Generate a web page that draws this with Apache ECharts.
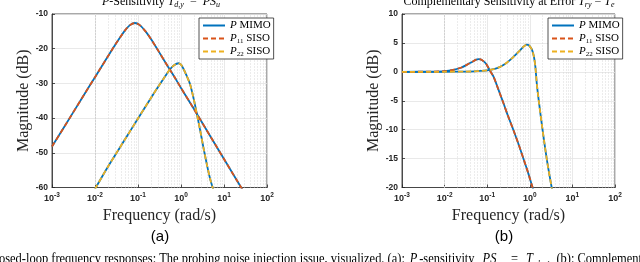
<!DOCTYPE html>
<html><head><meta charset="utf-8">
<script src="https://cdn.jsdelivr.net/npm/echarts@6/dist/echarts.min.js"></script>
<style>html,body{margin:0;padding:0;background:#fff}#c{width:640px;height:262px}</style>
</head><body><div id="c"></div>
<script>
// ---- data ----
// (a) P-sensitivity, MIMO channel 1 (overlaid by P11 SISO)
const freqA1 = [0.001,0.002,0.005,0.01,0.02,0.03,0.04,0.05,0.065,0.085,0.11,0.15,0.2,0.3,0.5,0.7,1,2,5,10,20,30];
const magA1  = [-48.2,-42.2,-34.2,-28.2,-22.2,-18.7,-16.4,-14.7,-13.2,-12.6,-13.2,-15.0,-17.2,-20.7,-25.2,-28.1,-31.3,-37.4,-45.6,-51.8,-58.0,-61.6];
// (a) P-sensitivity, MIMO channel 2 (overlaid by P22 SISO)
const freqA2 = [0.01,0.02,0.05,0.1,0.2,0.3,0.4,0.55,0.7,0.87,1.0,1.13,1.3,1.62,2.0,2.32,2.8,3.3,4.0,4.8,5.6,7];
const magA2  = [-60.4,-54,-46.1,-40.1,-34.2,-30.8,-28.5,-26.0,-24.7,-24.2,-24.6,-25.7,-27.3,-30.2,-34.8,-38.6,-43.6,-48.3,-53.4,-57.7,-60.5,-65];
// (b) Complementary sensitivity, channel 1
const freqB1 = [0.001,0.005,0.01,0.016,0.025,0.033,0.045,0.055,0.062,0.07,0.08,0.095,0.114,0.14,0.18,0.24,0.3,0.414,0.55,0.716,0.9,1.13,1.4];
const magB1  = [0,0.03,0.12,0.35,0.75,1.2,1.75,2.1,2.2,2.15,1.9,1.35,0.3,-0.8,-2.9,-5.4,-7.4,-10.1,-12.6,-15.1,-17.3,-19.7,-21.8];
// (b) Complementary sensitivity, channel 2
const freqB2 = [0.001,0.01,0.03,0.05,0.07,0.1,0.15,0.2,0.25,0.32,0.414,0.55,0.7,0.85,0.95,1.05,1.13,1.25,1.35,1.47,1.65,1.94,2.2,2.53,2.9,3.3,4];
const magB2  = [0,0.01,0.04,0.09,0.15,0.25,0.5,0.85,1.25,1.85,2.6,3.5,4.3,4.7,4.6,4.2,3.8,2.6,0.9,-2.3,-5.4,-9.4,-12.3,-15.3,-17.9,-20.2,-24];
// SISO loops coincide with the MIMO channels
const magA1Siso = magA1.slice();
const magA2Siso = magA2.slice();
const magB1Siso = magB1.slice();
const magB2Siso = magB2.slice();

const legendNames = ['P MIMO','P11 SISO','P22 SISO'];
const xTickExp = [-3,-2,-1,0,1,2];
const yRangeA = [-60,-10,10];
const yRangeB = [-20,10,5];

// ---- styling ----
const BLUE='#0072BD', RED='#D95319', YEL='#EDB120';
const SERIF="'Liberation Serif','DejaVu Serif',serif";
const SANS="'Liberation Sans',Arial,sans-serif";
const AX='#262626';

function pairs(f,m){return f.map((x,i)=>[x,m[i]]);}
const minorVals=[];
for(let d=-3; d<2; d++){ for(let k=2;k<10;k++){ minorVals.push(+(k*Math.pow(10,d)).toPrecision(3)); } }

function xAxisFor(gi){
  return {type:'log', logBase:10, gridIndex:gi, min:0.001, max:100,
    name:'Frequency (rad/s)', nameLocation:'middle', nameGap:17,
    nameTextStyle:{fontFamily:SERIF, fontSize:16, color:AX},
    axisLine:{show:true, onZero:false, lineStyle:{color:AX,width:0.8}},
    axisTick:{show:true, inside:true, length:3, lineStyle:{color:AX,width:0.8}},
    splitLine:{show:true, lineStyle:{color:'#e3e3e3', width:0.8}},
    axisLabel:{margin:4, color:AX,
      formatter:function(v){const e=Math.round(Math.log10(v)); const i=xTickExp.indexOf(e); return '{b|10}{e|'+(i>=0?xTickExp[i]:e)+'}';},
      rich:{b:{fontFamily:SANS, fontSize:9, fontWeight:'bold', color:AX, lineHeight:14},
            e:{fontFamily:SANS, fontSize:6.5, fontWeight:'bold', color:AX, lineHeight:7, verticalAlign:'top'}}}
  };
}
function yAxisFor(gi, r){
  return {type:'value', gridIndex:gi, min:r[0], max:r[1], interval:r[2],
    name:'Magnitude (dB)', nameLocation:'middle', nameGap:18,
    nameTextStyle:{fontFamily:SERIF, fontSize:16, color:AX},
    axisLine:{show:true, onZero:false, lineStyle:{color:AX,width:0.8}},
    axisTick:{show:true, inside:true, length:3, lineStyle:{color:AX,width:0.8}},
    splitLine:{show:true, lineStyle:{color:'#e3e3e3', width:0.8}},
    axisLabel:{margin:4, color:AX, fontFamily:SANS, fontSize:8.5, fontWeight:'bold'}
  };
}
function minorSeries(gi){
  return {type:'line', xAxisIndex:gi, yAxisIndex:gi, data:[], silent:true, z:1,
    markLine:{silent:true, symbol:['none','none'], label:{show:false}, z:1,
      lineStyle:{color:'#cfcfcf', type:[1,2], width:0.8},
      emphasis:{disabled:true},
      data:minorVals.map(v=>({xAxis:v}))}};
}
function curve(gi,name,f,m,color,dashed,z){
  return {name:name, type:'line', xAxisIndex:gi, yAxisIndex:gi, data:pairs(f,m),
    symbol:'none', smooth:0.25, clip:true, z:z,
    lineStyle:{color:color, width:1.8, type: dashed?[5,3]:'solid'},
    itemStyle:{color:color}};
}
function legendFor(left){
  return {left:left, top:18, orient:'vertical', itemGap:0, itemWidth:22, itemHeight:11,
    padding:[1,3,1,3], backgroundColor:'#fff', borderColor:AX, borderWidth:0.8, borderRadius:0,
    data:legendNames, selectedMode:false,
    itemStyle:{opacity:0, borderWidth:0},
    formatter:function(n){
      if(n==='P MIMO') return '{i|P} MIMO';
      if(n==='P11 SISO') return '{i|P}{s|11} SISO';
      return '{i|P}{s|22} SISO';
    },
    textStyle:{fontFamily:SERIF, fontSize:11, color:'#000', lineHeight:11,
      rich:{i:{fontFamily:SERIF, fontSize:11, fontStyle:'italic', color:'#000', lineHeight:13},
            s:{fontFamily:SERIF, fontSize:7, color:'#000', lineHeight:7, verticalAlign:'bottom'}}}
  };
}

const titleRich = {
  n:{fontFamily:SERIF, fontSize:12, fill:'#000', lineHeight:15},
  i:{fontFamily:SERIF, fontSize:12, fontStyle:'italic', fill:'#000', lineHeight:15},
  s:{fontFamily:SERIF, fontSize:8, fontStyle:'italic', fill:'#000', lineHeight:8, verticalAlign:'bottom'}
};
const capRich = {
  n:{fontFamily:SERIF, fontSize:14, fill:'#000', lineHeight:17},
  i:{fontFamily:SERIF, fontSize:14, fontStyle:'italic', fill:'#000', lineHeight:17},
  m:{fontFamily:SERIF, fontSize:14, fontStyle:'italic', fill:'#000', lineHeight:17, padding:[0,2,0,2]},
  s:{fontFamily:SERIF, fontSize:9, fontStyle:'italic', fill:'#000', lineHeight:9, verticalAlign:'bottom', padding:[0,2,0,1]}
};

const option = {
  animation:false,
  backgroundColor:'#fff',
  grid:[
    {left:52, top:14, width:215, height:173.5, show:true, borderColor:AX, borderWidth:0.8, backgroundColor:'#fff'},
    {left:402, top:14, width:213, height:173.5, show:true, borderColor:AX, borderWidth:0.8, backgroundColor:'#fff'}
  ],
  xAxis:[xAxisFor(0), xAxisFor(1)],
  yAxis:[yAxisFor(0,yRangeA), yAxisFor(1,yRangeB)],
  legend:[legendFor(199), legendFor(548)],
  series:[
    minorSeries(0), minorSeries(1),
    curve(0,'P MIMO',freqA1,magA1,BLUE,false,3),
    curve(0,'P MIMO',freqA2,magA2,BLUE,false,3),
    curve(0,'P11 SISO',freqA1,magA1Siso,RED,true,4),
    curve(0,'P22 SISO',freqA2,magA2Siso,YEL,true,4),
    curve(1,'P MIMO',freqB1,magB1,BLUE,false,3),
    curve(1,'P MIMO',freqB2,magB2,BLUE,false,3),
    curve(1,'P11 SISO',freqB1,magB1Siso,RED,true,4),
    curve(1,'P22 SISO',freqB2,magB2Siso,YEL,true,4)
  ],
  graphic:[
    {type:'text', x:161, y:-6, silent:true, style:{text:'{i|P}{n|-Sensitivity }{i|T}{s|d,y}{n|  =  }{i|PS}{s|u}', rich:titleRich, align:'center', verticalAlign:'top', fill:'#000', fontFamily:SERIF, fontSize:12}},
    {type:'text', x:509, y:-6, silent:true, style:{text:'{n|Complementary Sensitivity at Error }{i|T}{s|ry}{n| = }{i|T}{s|e}', rich:titleRich, align:'center', verticalAlign:'top', fill:'#000', fontFamily:SERIF, fontSize:12}},
    {type:'text', x:160, y:229, silent:true, style:{text:'(a)', fontFamily:SANS, fontSize:15, fill:'#000', align:'center', verticalAlign:'top'}},
    {type:'text', x:504, y:229, silent:true, style:{text:'(b)', fontFamily:SANS, fontSize:15, fill:'#000', align:'center', verticalAlign:'top'}},
    {type:'text', x:-1, y:251, scaleX:0.89, silent:true, style:{text:'{n|osed-loop frequency responses: The probing noise injection issue, visualized. (a): }{m|P}{n|-sensitivity  }{m|PS}{s|u}{n|  =  }{m|T}{s|d,y}{n|.  (b): Complementary sensitivity}', rich:capRich, align:'left', verticalAlign:'top', fill:'#000', fontFamily:SERIF, fontSize:14}}
  ]
};
echarts.init(document.getElementById('c'),null,{renderer:'canvas'}).setOption(option);
</script></body></html>
